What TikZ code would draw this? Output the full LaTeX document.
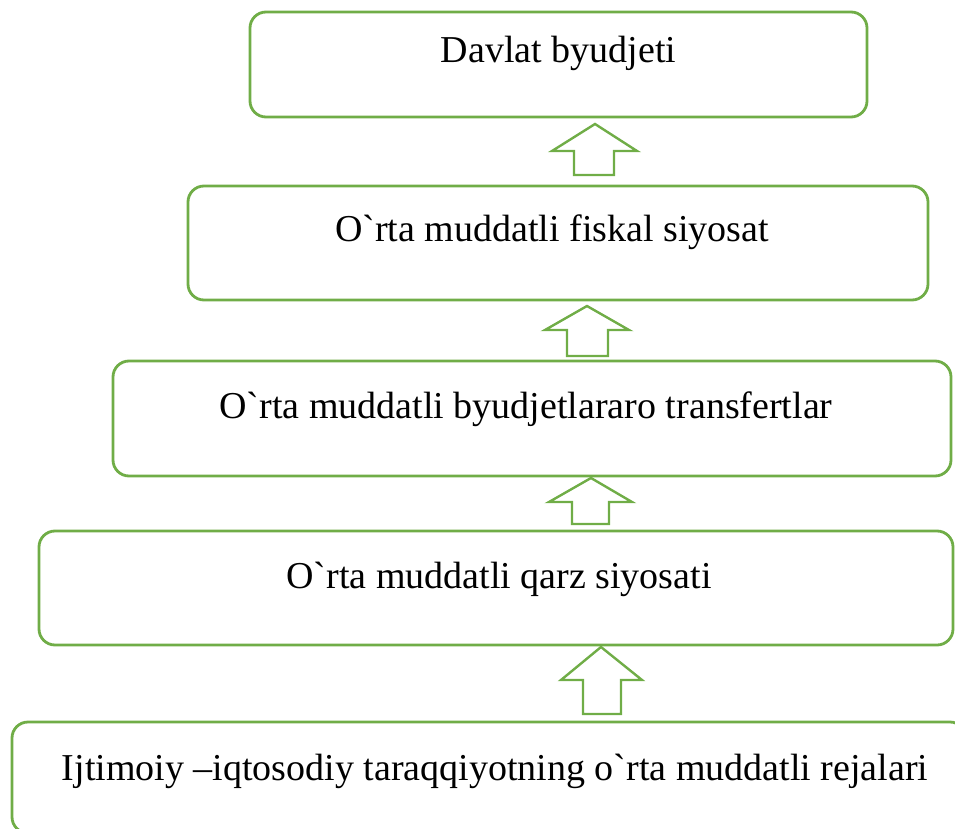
\documentclass[tikz,border=0pt]{standalone}
\usepackage{fontspec}
\setmainfont{Liberation Serif}[Ligatures=TeXOff]
\usepackage{xcolor}
\usepackage{tikz}
\usetikzlibrary{positioning,calc}
\definecolor{boxgreen}{RGB}{112,173,71}

\begin{document}
\begin{tikzpicture}[x=1pt, y=-1pt,
    box/.style={draw=boxgreen, line width=2.8pt, rounded corners=16pt, inner sep=0pt},
    lbl/.style={font=\fontsize{38}{45}\selectfont, anchor=base, inner sep=0pt},
    uparr/.style={draw=boxgreen, line width=2.4pt, line join=miter}]
    \clip (0,0) rectangle (955,829);

    % Boxes, top to bottom
    \node[box, minimum width=617pt, minimum height=105pt] (b1) at (558.5,64.5) {};
    \node[box, minimum width=740pt, minimum height=114pt] (b2) at (558,243) {};
    \node[box, minimum width=838pt, minimum height=115pt] (b3) at (532,418.5) {};
    \node[box, minimum width=914pt, minimum height=114pt] (b4) at (496,588) {};
    \node[box, minimum width=954pt, minimum height=111pt] (b5) at (489,777.5) {}; % runs off the page

    % Texts sit in the upper part of each box
    \node[lbl] (t1) at ($(b1.north)+(0,52)$) {Davlat byudjeti};
    \node[lbl] (t2) at ($(b2.north)+(-6,57)$) {O`rta muddatli fiskal siyosat};
    \node[lbl] (t3) at ($(b3.north)+(-6,59)$) {O`rta muddatli byudjetlararo transfertlar};
    \node[lbl] (t4) at ($(b4.north)+(3,59)$) {O`rta muddatli qarz siyosati};
    \node[lbl] (t5) at ($(b5.north)+(6,60)$) {Ijtimoiy –iqtosodiy taraqqiyotning o`rta muddatli rejalari};

    % Block arrows between the boxes
    \draw[uparr] (595,124) -- (637,151) -- (614,151) -- (614,175) -- (574,175) -- (574,151) -- (552,151) -- cycle;
    \draw[uparr] (587,306) -- (629,330) -- (608,330) -- (608,356) -- (567,356) -- (567,330) -- (545,330) -- cycle;
    \draw[uparr] (591,478) -- (632,502) -- (609,502) -- (609,524) -- (572,524) -- (572,502) -- (549,502) -- cycle;
    \draw[uparr] (601,647) -- (642,680) -- (621,680) -- (621,714) -- (583,714) -- (583,680) -- (561,680) -- cycle;
\end{tikzpicture}
\end{document}
